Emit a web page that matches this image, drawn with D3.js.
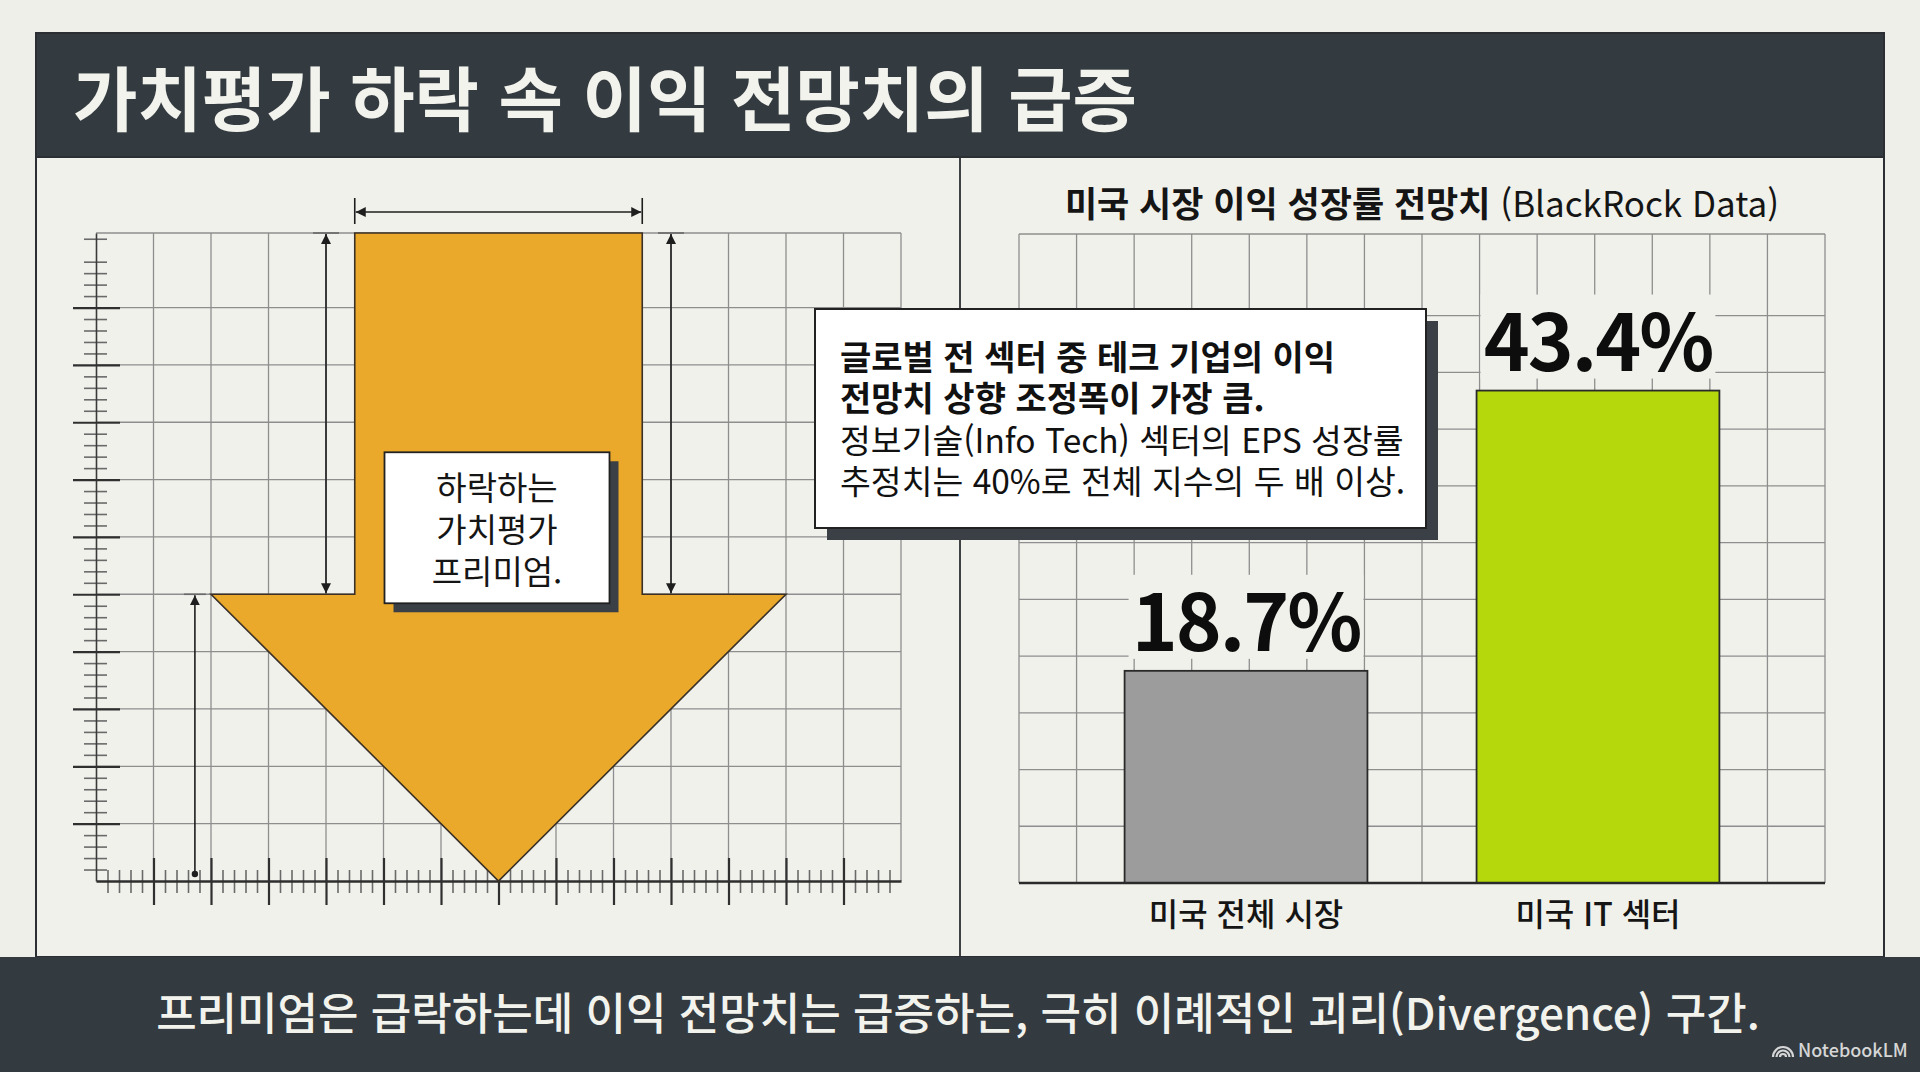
<!DOCTYPE html>
<html lang="ko">
<head>
<meta charset="utf-8">
<script src="https://cdn.jsdelivr.net/npm/d3@7"></script>
<style>
  html, body { margin: 0; padding: 0; background: #efefea; }
  svg { display: block; font-family: "Noto Sans CJK KR", "Noto Sans", sans-serif; }
</style>
</head>
<body>
<svg id="chart" width="1920" height="1072"></svg>
<script>
// Texts
const titleText = '가치평가 하락 속 이익 전망치의 급증';
const footerText = '프리미엄은 급락하는데 이익 전망치는 급증하는, 극히 이례적인 괴리(Divergence) 구간.';
const rightTitleBold = '미국 시장 이익 성장률 전망치';
const rightTitleSource = '(BlackRock Data)';
const leftNote = ['하락하는', '가치평가', '프리미엄.'];
const calloutBold = ['글로벌 전 섹터 중 테크 기업의 이익', '전망치 상향 조정폭이 가장 큼.'];
const calloutRegular = ['정보기술(Info Tech) 섹터의 EPS 성장률', '추정치는 40%로 전체 지수의 두 배 이상.'];

// Left diagram, in grid units
const arrowShaft = [4.5, 9.5];
const arrowHeadSpan = [2, 12];
const arrowHeadBase = 5;
const arrowTip = 7;
const arrowTop = 11.3;
const dimShaftX = [4, 10];
const dimHeadX = 1.72;

// Right bar chart
const categories = ['미국 전체 시장', '미국 IT 섹터'];
const growthValues = [18.7, 43.4];
const valueLabels = ['18.7%', '43.4%'];
const barColors = ['#9c9c9c', '#b4d80b'];

const svg = d3.select('#chart');
const dark = '#343b40';
const ink = '#2b2f33';
const paper = '#f1f1ec';

// ---------- frame ----------
svg.append('rect').attr('x', 0).attr('y', 0).attr('width', 1920).attr('height', 1072).attr('fill', '#efefea');
svg.append('rect').attr('x', 36).attr('y', 157).attr('width', 1848).attr('height', 800)
    .attr('fill', paper).attr('stroke', ink).attr('stroke-width', 2);
svg.append('line').attr('x1', 960).attr('x2', 960).attr('y1', 157).attr('y2', 957)
    .attr('stroke', ink).attr('stroke-width', 1.8);
svg.append('rect').attr('x', 36).attr('y', 33).attr('width', 1848).attr('height', 124).attr('fill', dark)
    .attr('stroke', ink).attr('stroke-width', 2);
svg.append('text').attr('x', 73).attr('y', 126)
    .attr('font-size', 70).attr('font-weight', 700).attr('fill', '#f3f3ee')
    .text(titleText);

// footer band
svg.append('rect').attr('x', 0).attr('y', 957).attr('width', 1920).attr('height', 115).attr('fill', dark);
svg.append('text').attr('x', 958).attr('y', 1030).attr('text-anchor', 'middle')
    .attr('font-size', 44).attr('font-weight', 500).attr('fill', '#f3f3ee')
    .text(footerText);
// NotebookLM mark
const logo = svg.append('g').attr('transform', 'translate(1783,1057)')
    .attr('fill', 'none').attr('stroke', '#d6d6d6').attr('stroke-width', 2.2);
[10, 6.5, 3].forEach(r => {
    logo.append('path').attr('d', `M${-r},0 A${r},${r} 0 0 1 ${r},0`);
});
svg.append('text').attr('x', 1798).attr('y', 1057)
    .attr('font-size', 18).attr('font-weight', 500).attr('fill', '#d6d6d6').text('NotebookLM');

// ---------- left diagram ----------
const xL = d3.scaleLinear([0, 14], [96, 901]);
const yL = d3.scaleLinear([0, arrowTop], [881, 233]);
const left = svg.append('g');

const gridL = left.append('g').attr('stroke', '#8e8e8e').attr('stroke-width', 1.3);
gridL.selectAll('.v').data(d3.range(1, 15)).join('line')
    .attr('x1', d => xL(d)).attr('x2', d => xL(d)).attr('y1', yL(arrowTop)).attr('y2', yL(0));
gridL.selectAll('.h').data(d3.range(1, 11).concat([arrowTop])).join('line')
    .attr('x1', xL(0)).attr('x2', xL(14)).attr('y1', d => yL(d)).attr('y2', d => yL(d));

// axes with major/minor ticks crossing the axis line
const minorY = d3.range(0.2, arrowTop, 0.2).filter(v => Math.abs(v - Math.round(v)) > 0.05);
const minorX = d3.range(0.2, 14, 0.2).filter(v => Math.abs(v - Math.round(v)) > 0.05);

const yMinor = left.append('g').attr('transform', `translate(${xL(0)},0)`)
    .call(d3.axisLeft(yL).tickValues(minorY).tickFormat('').tickSizeOuter(0));
yMinor.selectAll('.tick line').attr('x1', 11).attr('x2', -12).attr('stroke', '#6a6a6a').attr('stroke-width', 1.6);
yMinor.select('.domain').remove();
const yMajor = left.append('g').attr('transform', `translate(${xL(0)},0)`)
    .call(d3.axisLeft(yL).tickValues(d3.range(1, 11)).tickFormat('').tickSizeOuter(0));
yMajor.selectAll('.tick line').attr('x1', 24).attr('x2', -23).attr('stroke', '#303030').attr('stroke-width', 2.2);
yMajor.select('.domain').attr('stroke', '#3a3a3a').attr('stroke-width', 1.6);

const xMinor = left.append('g').attr('transform', `translate(0,${yL(0)})`)
    .call(d3.axisBottom(xL).tickValues(minorX).tickFormat('').tickSizeOuter(0));
xMinor.selectAll('.tick line').attr('y1', -11).attr('y2', 12).attr('stroke', '#6a6a6a').attr('stroke-width', 1.6);
xMinor.select('.domain').remove();
const xMajor = left.append('g').attr('transform', `translate(0,${yL(0)})`)
    .call(d3.axisBottom(xL).tickValues(d3.range(1, 14)).tickFormat('').tickSizeOuter(0));
xMajor.selectAll('.tick line').attr('y1', -23).attr('y2', 24).attr('stroke', '#303030').attr('stroke-width', 2.2);
xMajor.select('.domain').attr('stroke', '#2e2e2e').attr('stroke-width', 2.4);

// the arrow
const arrowPts = [
    [arrowShaft[0], arrowTop], [arrowShaft[1], arrowTop], [arrowShaft[1], arrowHeadBase],
    [arrowHeadSpan[1], arrowHeadBase], [arrowTip, 0], [arrowHeadSpan[0], arrowHeadBase],
    [arrowShaft[0], arrowHeadBase]
];
left.append('path')
    .attr('d', d3.line().x(d => xL(d[0])).y(d => yL(d[1]))(arrowPts) + 'Z')
    .attr('fill', '#eaa92a').attr('stroke', '#3a3026').attr('stroke-width', 1.6)
    .attr('stroke-linejoin', 'miter');

// dimension lines
const defs = svg.append('defs');
defs.append('marker').attr('id', 'tip').attr('viewBox', '0 0 10 10')
    .attr('refX', 10).attr('refY', 5).attr('markerWidth', 10).attr('markerHeight', 10)
    .attr('markerUnits', 'userSpaceOnUse').attr('orient', 'auto-start-reverse')
    .append('path').attr('d', 'M0,0 L10,5 L0,10 Z').attr('fill', '#1e1e1e');
defs.append('marker').attr('id', 'dot').attr('viewBox', '0 0 10 10')
    .attr('refX', 5).attr('refY', 5).attr('markerWidth', 8).attr('markerHeight', 8)
    .attr('markerUnits', 'userSpaceOnUse')
    .append('circle').attr('cx', 5).attr('cy', 5).attr('r', 4).attr('fill', '#1e1e1e');

const dim = left.append('g').attr('stroke', '#1e1e1e').attr('stroke-width', 1.6).attr('fill', 'none');
const topY = yL(arrowTop);
// width of the shaft
dim.append('line').attr('x1', xL(arrowShaft[0]) + 1).attr('x2', xL(arrowShaft[1]) - 1)
    .attr('y1', topY - 21).attr('y2', topY - 21)
    .attr('marker-start', 'url(#tip)').attr('marker-end', 'url(#tip)');
arrowShaft.forEach(v => {
    dim.append('line').attr('x1', xL(v)).attr('x2', xL(v)).attr('y1', topY - 35).attr('y2', topY - 9);
});
// shaft height, both sides
dimShaftX.forEach(v => {
    dim.append('line').attr('x1', xL(v) - 13).attr('x2', xL(v) + 13).attr('y1', topY).attr('y2', topY)
        .attr('stroke', '#6a6a6a');
    dim.append('line').attr('x1', xL(v)).attr('x2', xL(v))
        .attr('y1', topY + 1).attr('y2', yL(arrowHeadBase) - 1)
        .attr('marker-start', 'url(#tip)').attr('marker-end', 'url(#tip)');
});
// head height
dim.append('line').attr('x1', xL(dimHeadX) - 11).attr('x2', xL(dimHeadX) + 11)
    .attr('y1', yL(arrowHeadBase)).attr('y2', yL(arrowHeadBase)).attr('stroke', '#6a6a6a');
dim.append('line').attr('x1', xL(dimHeadX)).attr('x2', xL(dimHeadX))
    .attr('y1', yL(arrowHeadBase) + 1).attr('y2', yL(0) - 7)
    .attr('marker-start', 'url(#tip)').attr('marker-end', 'url(#dot)');

// note box on the arrow
const noteBox = { x: xL(arrowTip) - 114, y: yL(arrowHeadBase) - 142, w: 225, h: 151 };
left.append('rect').attr('x', noteBox.x + 9).attr('y', noteBox.y + 9)
    .attr('width', noteBox.w).attr('height', noteBox.h).attr('fill', '#3a4045');
left.append('rect').attr('x', noteBox.x).attr('y', noteBox.y)
    .attr('width', noteBox.w).attr('height', noteBox.h)
    .attr('fill', '#ffffff').attr('stroke', '#222').attr('stroke-width', 1.8);
left.append('text').attr('text-anchor', 'middle').attr('font-size', 33).attr('fill', '#151515')
    .selectAll('tspan').data(leftNote).join('tspan')
    .attr('x', noteBox.x + noteBox.w / 2).attr('y', (d, i) => noteBox.y + 48 + i * 42)
    .text(d => d);

// ---------- right bar chart ----------
const right = svg.append('g');
const yMaxR = 57.2;
const xR = d3.scaleBand(categories, [1019, 1825]).paddingInner(0.31).paddingOuter(0.3);
const yR = d3.scaleLinear([0, yMaxR], [883, 234]);
const colR = d3.scaleLinear([0, 14], [1019, 1825]);

right.append('text').attr('x', (colR(0) + colR(14)) / 2).attr('y', 217)
    .attr('text-anchor', 'middle').attr('font-size', 35).attr('fill', '#151515')
    .call(t => {
        t.append('tspan').attr('font-weight', 700).text(rightTitleBold + ' ');
        t.append('tspan').attr('font-weight', 400).text(rightTitleSource);
    });

const gridR = right.append('g').attr('stroke', '#8e8e8e').attr('stroke-width', 1.3);
gridR.selectAll('.v').data(d3.range(0, 15)).join('line')
    .attr('x1', d => colR(d)).attr('x2', d => colR(d)).attr('y1', yR(yMaxR)).attr('y2', yR(0));
gridR.selectAll('.h').data(d3.range(5, 55, 5).concat([yMaxR])).join('line')
    .attr('x1', colR(0)).attr('x2', colR(14)).attr('y1', d => yR(d)).attr('y2', d => yR(d));

const bars = categories.map((c, i) => ({ cat: c, value: growthValues[i], label: valueLabels[i], color: barColors[i] }));

// label backgrounds hide the grid behind the numbers
right.selectAll('.lblbg').data(bars).join('rect')
    .attr('x', d => xR(d.cat) + 4).attr('width', xR.bandwidth() - 8)
    .attr('y', d => yR(d.value) - 96).attr('height', 84)
    .attr('fill', paper);

right.selectAll('.bar').data(bars).join('rect')
    .attr('x', d => xR(d.cat)).attr('width', xR.bandwidth())
    .attr('y', d => yR(d.value)).attr('height', d => yR(0) - yR(d.value))
    .attr('fill', d => d.color).attr('stroke', '#2a2a2a').attr('stroke-width', 1.8);

right.selectAll('.val').data(bars).join('text')
    .attr('x', d => xR(d.cat) + xR.bandwidth() / 2).attr('y', d => yR(d.value) - 20)
    .attr('text-anchor', 'middle').attr('font-size', 78).attr('font-weight', 700)
    .attr('letter-spacing', -2).attr('fill', '#0d0d0d')
    .text(d => d.label);

const xAxisR = right.append('g').attr('transform', `translate(0,${yR(0)})`)
    .call(d3.axisBottom(xR).tickSize(0).tickPadding(20));
xAxisR.select('.domain').attr('d', `M${colR(0)},0H${colR(14)}`).attr('stroke', '#2a2a2a').attr('stroke-width', 2.4);
xAxisR.selectAll('text').attr('font-family', '"Noto Sans CJK KR", sans-serif')
    .attr('font-size', 32).attr('font-weight', 500).attr('fill', '#151515');

// callout
const callout = { x: 815, y: 309, w: 611, h: 219 };
right.append('rect').attr('x', callout.x + 12).attr('y', callout.y + 12)
    .attr('width', callout.w).attr('height', callout.h).attr('fill', '#3a4045');
right.append('rect').attr('x', callout.x).attr('y', callout.y)
    .attr('width', callout.w).attr('height', callout.h)
    .attr('fill', '#ffffff').attr('stroke', '#222').attr('stroke-width', 2);
const calloutText = right.append('text').attr('fill', '#111');
calloutBold.concat(calloutRegular).forEach((line, i) => {
    const bold = i < calloutBold.length;
    calloutText.append('tspan').attr('x', callout.x + 25).attr('y', callout.y + 61 + i * 41.3)
        .attr('font-size', bold ? 34 : 33.5)
        .attr('font-weight', bold ? 700 : 400)
        .text(line);
});
</script>
</body>
</html>
